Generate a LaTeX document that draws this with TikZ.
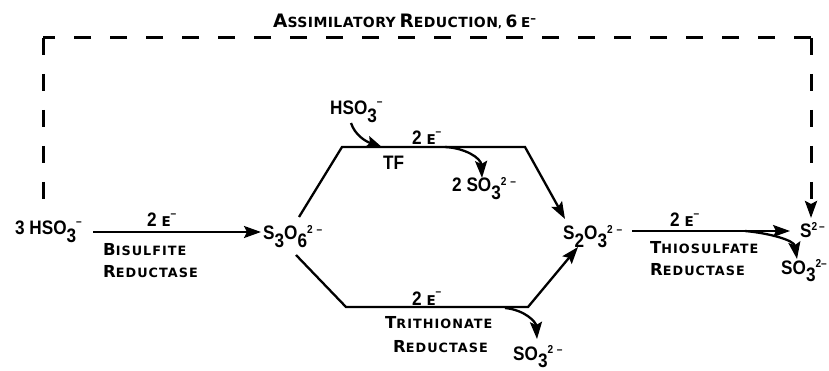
\documentclass[tikz,border=0pt]{standalone}
\usepackage{fontspec}
\setmainfont{Liberation Sans}
\newfontfamily\chemfam{Liberation Sans}[FakeStretch=0.88]
\newfontfamily\labfont{DejaVu Sans}[LetterSpace=8]
\newfontfamily\titfont{DejaVu Sans}[LetterSpace=3]
\usetikzlibrary{arrows.meta}
\newcommand{\chemfont}{\chemfam\bfseries\fontsize{19.5}{19}\selectfont}
\newcommand{\Sb}[1]{\raisebox{-0.7ex}{#1}}
\newcommand{\Chg}[1]{\raisebox{0.62ex}{\fontsize{11.5}{11}\selectfont #1}}
\newcommand{\ChgM}[1]{\raisebox{0.95ex}{\fontsize{11.5}{11}\selectfont #1}}
\newcommand{\SCt}[2]{{\fontsize{18.5}{18}\selectfont #1}{\fontsize{14}{14}\selectfont #2}}
\newcommand{\SCl}[2]{{\fontsize{16.5}{16}\selectfont #1}{\fontsize{12.8}{13}\selectfont #2}}
\newcommand{\El}{{\labfont\bfseries\fontsize{13.5}{13}\selectfont E}\ChgM{\textendash}}
\tikzset{
  chem/.style={font=\chemfont, inner sep=0pt, anchor=base west},
  lab/.style={font=\labfont\bfseries, inner sep=0pt, anchor=base west},
  tip/.style={-{Stealth[length=17pt,width=12pt,inset=3pt]}},
  arr/.style={line width=2.3pt, tip},
  dsh/.style={line width=3pt, dash pattern=on 17pt off 19pt},
}
\begin{document}
\begin{tikzpicture}[x=1pt,y=-1pt]
\useasboundingbox (0,0) rectangle (829,371);
\fill[white] (0,0) rectangle (829,371);
% title
\node[lab, font=\titfont\bfseries] (title) at (273,28) {\SCt{A}{SSIMILATORY} \SCt{R}{EDUCTION}, {\fontsize{17}{17}\selectfont 6} \El};
% species
\node[chem] (hsoL) at (15,235) {3 HSO\Sb{3}\ChgM{\textendash}};
\node[chem] (s3o6) at (263,240) {S\Sb{3}O\Sb{6}\Chg{2\,\,\textendash}};
\node[chem] (s2o3) at (563,240) {S\Sb{2}O\Sb{3}\Chg{2\,\,\textendash}};
\node[chem] (s2) at (800,237) {S\Chg{2\,\textendash}};
\node[chem] (so3R) at (781,274) {SO\Sb{3}\Chg{2\textendash}};
\node[chem] (hsoT) at (330,115) {HSO\Sb{3}\ChgM{\textendash}};
\node[chem] (tf) at (383,170) {TF};
\node[chem] (so3T) at (452,192) {2 SO\Sb{3}\Chg{2\,\,\textendash}};
\node[chem] (so3B) at (513,360) {SO\Sb{3}\Chg{2\,\,\textendash}};
% electrons
\node[chem] (eL) at (147,227) {2 \El};
\node[chem] (eR) at (670,227) {2 \El};
\node[chem] (eT) at (412,145) {2 \El};
\node[chem] (eB) at (412,305) {2 \El};
% enzymes
\node[lab] (bis1) at (103,255) {\SCl{B}{ISULFITE}};
\node[lab] (bis2) at (103,277) {\SCl{R}{EDUCTASE}};
\node[lab] (thi1) at (650,253) {\SCl{T}{HIOSULFATE}};
\node[lab] (thi2) at (650,275) {\SCl{R}{EDUCTASE}};
\node[lab] (tri1) at (385,328) {\SCl{T}{RITHIONATE}};
\node[lab] (tri2) at (393,352) {\SCl{R}{EDUCTASE}};
% coordinates
\coordinate (a1) at (93,232);
\coordinate (a2) at (261,232);
\coordinate (h1) at (299,217);
\coordinate (h2) at (342,147);
\coordinate (h3) at (525,147);
\coordinate (h4) at (565,219);
\coordinate (g1) at (296,255);
\coordinate (g2) at (346,307);
\coordinate (g3) at (528,307);
\coordinate (g4) at (578,247);
\coordinate (t1) at (632,231);
\coordinate (t2) at (790,231);
\coordinate (tb) at (745,231);
\coordinate (bt) at (445,147);
\coordinate (bb) at (505,308);
\coordinate (tl) at (43,38);
\coordinate (tr) at (811,38);
\coordinate (lb) at (43,212);
\coordinate (rb) at (811,218);
% connectors
\draw[arr] (a1) -- (a2);
\draw[arr] (h1) -- (h2) -- (h3) -- (h4);
\draw[arr] (g1) -- (g2) -- (g3) -- (g4);
\draw[arr] (t1) -- (t2);
\draw[arr] (tb) .. controls (768,233) and (794,240) .. (797,259);
\draw[arr] (351,123) .. controls (355,135) and (365,141) .. (383,148);
\draw[arr] (bt) .. controls (465,148) and (481,158) .. (482,178);
\draw[arr] (bb) .. controls (525,310) and (536,322) .. (537,339);
% dashed assimilatory path
\draw[dsh] (tl) -- (lb);
\draw[dsh] (tr) -- (tl);
\draw[dsh, tip] (tr) -- (rb);
\end{tikzpicture}
\end{document}
